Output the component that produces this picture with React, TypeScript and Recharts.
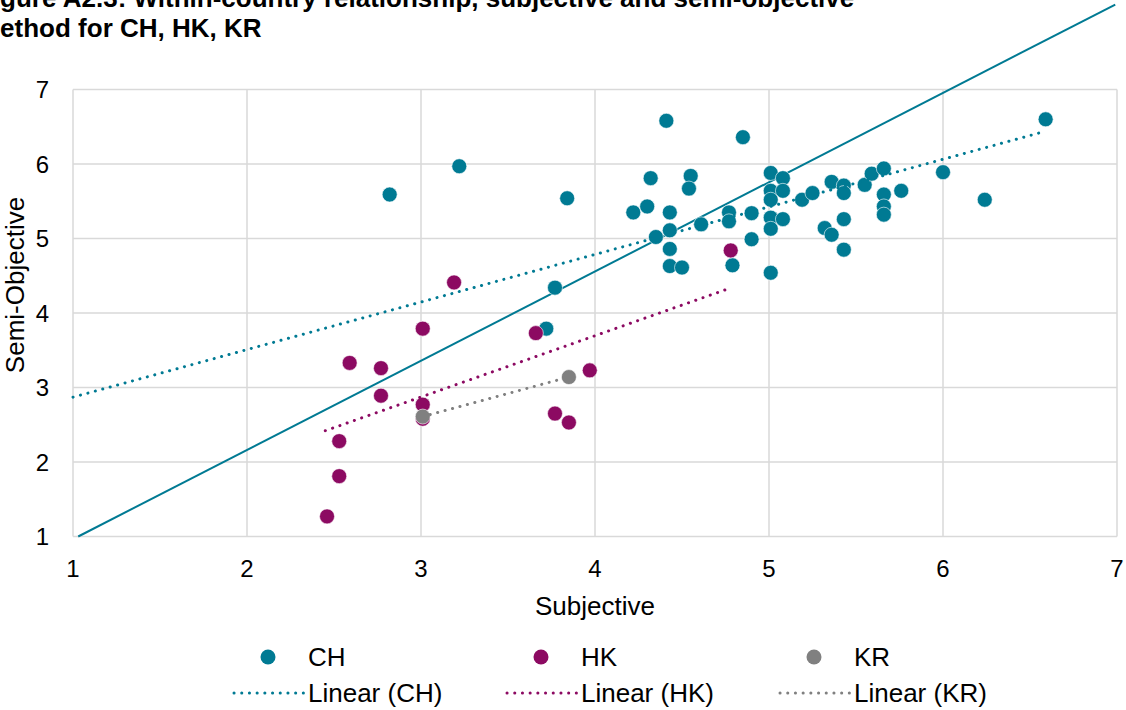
import {
  ScatterChart,
  Scatter,
  XAxis,
  YAxis,
  CartesianGrid,
  ReferenceLine,
  Label,
} from 'recharts';

const FONT = '"Liberation Sans", Arial, sans-serif';

const TEAL = '#007A93';
const PLUM = '#8C0A62';
const GREY = '#808080';

// CH (subjective, semi-objective)
const chX = [2.82, 3.22, 3.84, 3.77, 3.72, 4.41, 4.85, 6.59, 6.0, 6.24, 4.32, 4.55, 4.54, 4.22, 4.3, 4.43, 4.43, 4.35, 4.43, 4.43, 4.5, 4.61, 4.77, 4.77, 4.9, 4.9, 4.79, 5.01, 5.08, 5.01, 5.08, 5.01, 5.01, 5.08, 5.01, 5.01, 5.19, 5.25, 5.32, 5.36, 5.36, 5.43, 5.43, 5.43, 5.43, 5.55, 5.59, 5.66, 5.66, 5.66, 5.66, 5.76];
const chY = [5.59, 5.97, 5.54, 4.34, 3.79, 6.58, 6.36, 6.6, 5.89, 5.52, 5.81, 5.84, 5.67, 5.35, 5.43, 5.35, 5.11, 5.02, 4.86, 4.63, 4.61, 5.19, 5.35, 5.23, 5.34, 4.99, 4.64, 5.88, 5.81, 5.64, 5.64, 5.52, 5.28, 5.26, 5.13, 4.54, 5.52, 5.61, 5.14, 5.05, 5.76, 5.71, 5.61, 5.26, 4.85, 5.72, 5.87, 5.94, 5.59, 5.43, 5.32, 5.64];

// HK
const hkX = [3.19, 3.01, 3.66, 2.59, 2.77, 2.77, 3.01, 3.01, 3.97, 3.77, 3.85, 2.53, 2.53, 2.46, 4.78];
const hkY = [4.41, 3.79, 3.73, 3.33, 3.26, 2.89, 2.77, 2.58, 3.23, 2.65, 2.53, 2.28, 1.81, 1.27, 4.84];

// KR
const krX = [3.01, 3.85];
const krY = [2.61, 3.14];

// trend lines (start, end)
const chTrendX = [1, 6.59];
const chTrendY = [2.87, 6.44];
const hkTrendX = [2.45, 4.76];
const hkTrendY = [2.42, 4.32];
const krTrendX = [3.01, 3.85];
const krTrendY = [2.61, 3.14];

// solid reference line
const refX = [1.03, 6.99];
const refY = [1, 8.14];

const axisTicks = [1, 2, 3, 4, 5, 6, 7];

const toPoints = (xs: number[], ys: number[]) => xs.map((x, i) => ({ x, y: ys[i] }));

const dot = (color: string) => (props: any) => (
  <circle cx={props.cx} cy={props.cy} r={7.5} fill={color} stroke="#fff" strokeWidth={0.6} />
);

const noDot = () => <g />;

const dotted = (color: string) => ({
  stroke: color,
  strokeWidth: 3,
  strokeDasharray: '0.1 7.6',
  strokeLinecap: 'round' as const,
});

const legendItems = [
  { name: 'CH', color: TEAL, left: 232 },
  { name: 'HK', color: PLUM, left: 505 },
  { name: 'KR', color: GREY, left: 778 },
];

function ChartLegend() {
  return (
    <div style={{ position: 'absolute', left: 0, top: 636, width: 1126, height: 74, fontFamily: FONT, fontSize: 26, color: '#000' }}>
      {legendItems.map((it) => (
        <div key={it.name}>
          <svg style={{ position: 'absolute', left: it.left, top: 10 }} width={74} height={22}>
            <circle cx={36} cy={11} r={7.5} fill={it.color} />
          </svg>
          <span style={{ position: 'absolute', left: it.left + 76, top: 6, lineHeight: '30px' }}>{it.name}</span>
          <svg style={{ position: 'absolute', left: it.left, top: 46 }} width={74} height={22}>
            <line x1={2} y1={11} x2={72} y2={11} stroke={it.color} strokeWidth={3} strokeDasharray="0.1 7.6" strokeLinecap="round" />
          </svg>
          <span style={{ position: 'absolute', left: it.left + 76, top: 42, lineHeight: '30px' }}>{`Linear (${it.name})`}</span>
        </div>
      ))}
    </div>
  );
}

export default function App() {
  return (
    <div style={{ position: 'absolute', left: 0, top: 0, width: 1126, height: 710, background: '#fff', overflow: 'hidden' }}>
      <ScatterChart
        width={1126}
        height={710}
        margin={{ top: 89.5, right: 9, bottom: 93.5, left: 0 }}
        style={{ fontFamily: FONT }}
      >
        <CartesianGrid stroke="#d9d9d9" strokeWidth={1.5} />
        <XAxis
          type="number"
          dataKey="x"
          domain={[1, 7]}
          ticks={axisTicks}
          axisLine={false}
          tickLine={false}
          tickSize={6}
          tickMargin={17.5}
          height={80}
          tick={{ fontSize: 24, fill: '#000' }}
        >
          <Label value="Subjective" position="insideBottom" offset={1.5} style={{ fontSize: 26, fill: '#000' }} />
        </XAxis>
        <YAxis
          type="number"
          dataKey="y"
          domain={[1, 7]}
          ticks={axisTicks}
          axisLine={false}
          tickLine={false}
          tickSize={6}
          tickMargin={18}
          width={73}
          tick={{ fontSize: 24, fill: '#000' }}
        >
          <Label
            content={() => (
              <text x={15} y={285} transform="rotate(-90 15 285)" textAnchor="middle" dy="0.36em" fontSize={26} fill="#000">
                Semi-Objective
              </text>
            )}
          />
        </YAxis>
        <Scatter name="CH" data={toPoints(chX, chY)} shape={dot(TEAL)} isAnimationActive={false} />
        <Scatter name="HK" data={toPoints(hkX, hkY)} shape={dot(PLUM)} isAnimationActive={false} />
        <Scatter name="KR" data={toPoints(krX, krY)} shape={dot(GREY)} isAnimationActive={false} />
        <Scatter name="Linear (CH)" data={toPoints(chTrendX, chTrendY)} line={dotted(TEAL)} shape={noDot} isAnimationActive={false} />
        <Scatter name="Linear (HK)" data={toPoints(hkTrendX, hkTrendY)} line={dotted(PLUM)} shape={noDot} isAnimationActive={false} />
        <Scatter name="Linear (KR)" data={toPoints(krTrendX, krTrendY)} line={dotted(GREY)} shape={noDot} isAnimationActive={false} />
        <ReferenceLine
          segment={toPoints(refX, refY)}
          stroke={TEAL}
          strokeWidth={2}
          ifOverflow="visible"
        />
      </ScatterChart>
      <div style={{ position: 'absolute', left: -23, top: -17, fontFamily: FONT, fontWeight: 'bold', fontSize: 26, lineHeight: '30px', color: '#000', whiteSpace: 'nowrap' }}>
        <div>Figure A2.3: Within-country relationship, subjective and semi-objective</div>
        <div>method for CH, HK, KR</div>
      </div>
      <ChartLegend />
    </div>
  );
}
